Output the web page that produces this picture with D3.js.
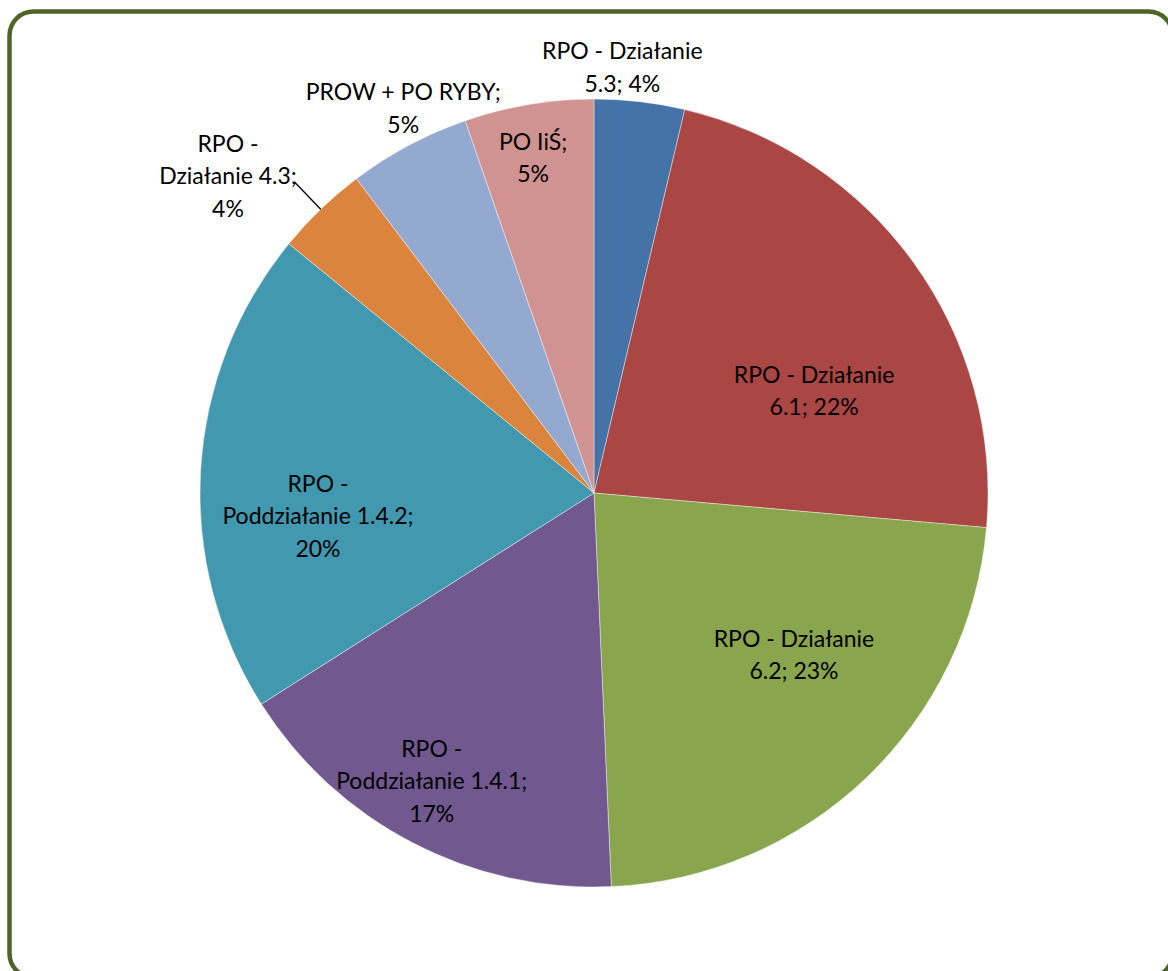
<!DOCTYPE html>
<html>
<head>
<meta charset="utf-8">
<script src="https://cdn.jsdelivr.net/npm/d3@7"></script>
<style>
  body { margin: 0; background: #fff; }
  svg { display: block; }
  .lbl { font-family: Lato, "Open Sans", sans-serif; font-size: 23px; fill: #000; }
</style>
</head>
<body>
<script>
var width = 1168,
    height = 971;

// data
var categories = ["RPO - Działanie 5.3", "RPO - Działanie 6.1", "RPO - Działanie 6.2",
  "RPO - Poddziałanie 1.4.1", "RPO - Poddziałanie 1.4.2", "RPO - Działanie 4.3",
  "PROW + PO RYBY", "PO IiŚ"];
var shares = [3.7, 22.7, 22.9, 16.7, 19.9, 3.8, 5.0, 5.3];
var percentLabels = ["4%", "22%", "23%", "17%", "20%", "4%", "5%", "5%"];
var labelLines = [
  ["RPO - Działanie", "5.3; 4%"],
  ["RPO - Działanie", "6.1; 22%"],
  ["RPO - Działanie", "6.2; 23%"],
  ["RPO -", "Poddziałanie 1.4.1;", "17%"],
  ["RPO -", "Poddziałanie 1.4.2;", "20%"],
  ["RPO -", "Działanie 4.3;", "4%"],
  ["PROW + PO RYBY;", "5%"],
  ["PO IiŚ;", "5%"]
];
var colors = ["#4572A7", "#AA4643", "#89A54E", "#71588F", "#4198AF", "#DB843D", "#93A9CF", "#D19392"];

// label placement (angle in degrees clockwise from top, radius as fraction of pie radius)
var labelAngle = [3.8, 65.1, 129.0, 209.4, 265.2, 310.9, 333.6, 349.7];
var labelRadius = [1.083, 0.616, 0.653, 0.839, 0.703, 1.229, 1.089, 0.864];

var cx = 594, cy = 493, R = 394, lineH = 32.5;

var svg = d3.select("body").append("svg")
    .attr("width", width)
    .attr("height", height);

svg.append("rect")
    .attr("x", 9.5)
    .attr("y", 11.5)
    .attr("width", 1163)
    .attr("height", 966)
    .attr("rx", 24)
    .attr("fill", "#fff")
    .attr("stroke", "#4F6228")
    .attr("stroke-width", 4.5);

var data = categories.map(function(c, i) { return { name: c, value: shares[i], i: i }; });

var pie = d3.pie()
    .sort(null)
    .value(function(d) { return d.value; });

var arc = d3.arc()
    .innerRadius(0)
    .outerRadius(R);

var arcs = pie(data);

var g = svg.append("g")
    .attr("transform", "translate(" + cx + "," + cy + ")");

g.selectAll(".slice")
    .data(arcs)
  .enter().append("path")
    .attr("class", "slice")
    .attr("d", arc)
    .attr("fill", function(d) { return colors[d.data.i]; })
    .attr("stroke", "#fff")
    .attr("stroke-width", 0.4);

var rad = d3.scaleLinear().domain([0, 1]).range([0, R]);

function polar(deg, r) {
  var a = deg * Math.PI / 180;
  return [Math.sin(a) * rad(r), -Math.cos(a) * rad(r)];
}

// leader line for the small orange slice
var s6 = arcs[5];
var mid6 = (s6.startAngle + s6.endAngle) / 2 * 180 / Math.PI;
var p0 = polar(mid6, 1.0), p1 = polar(mid6, 1.095);
g.append("line")
    .attr("x1", p0[0]).attr("y1", p0[1])
    .attr("x2", p1[0]).attr("y2", p1[1])
    .attr("stroke", "#000")
    .attr("stroke-width", 1.3);

var label = g.selectAll(".lbl")
    .data(arcs)
  .enter().append("text")
    .attr("class", "lbl")
    .attr("text-anchor", "middle")
    .attr("transform", function(d) {
      var p = polar(labelAngle[d.data.i], labelRadius[d.data.i]);
      return "translate(" + p[0] + "," + p[1] + ")";
    });

label.each(function(d) {
  var lines = labelLines[d.data.i];
  var t = d3.select(this);
  var off = -(lines.length - 1) / 2 * lineH;
  lines.forEach(function(s, k) {
    t.append("tspan")
        .attr("x", 0)
        .attr("y", off + k * lineH)
        .attr("dy", "0.35em")
        .text(s);
  });
});
</script>
</body>
</html>
